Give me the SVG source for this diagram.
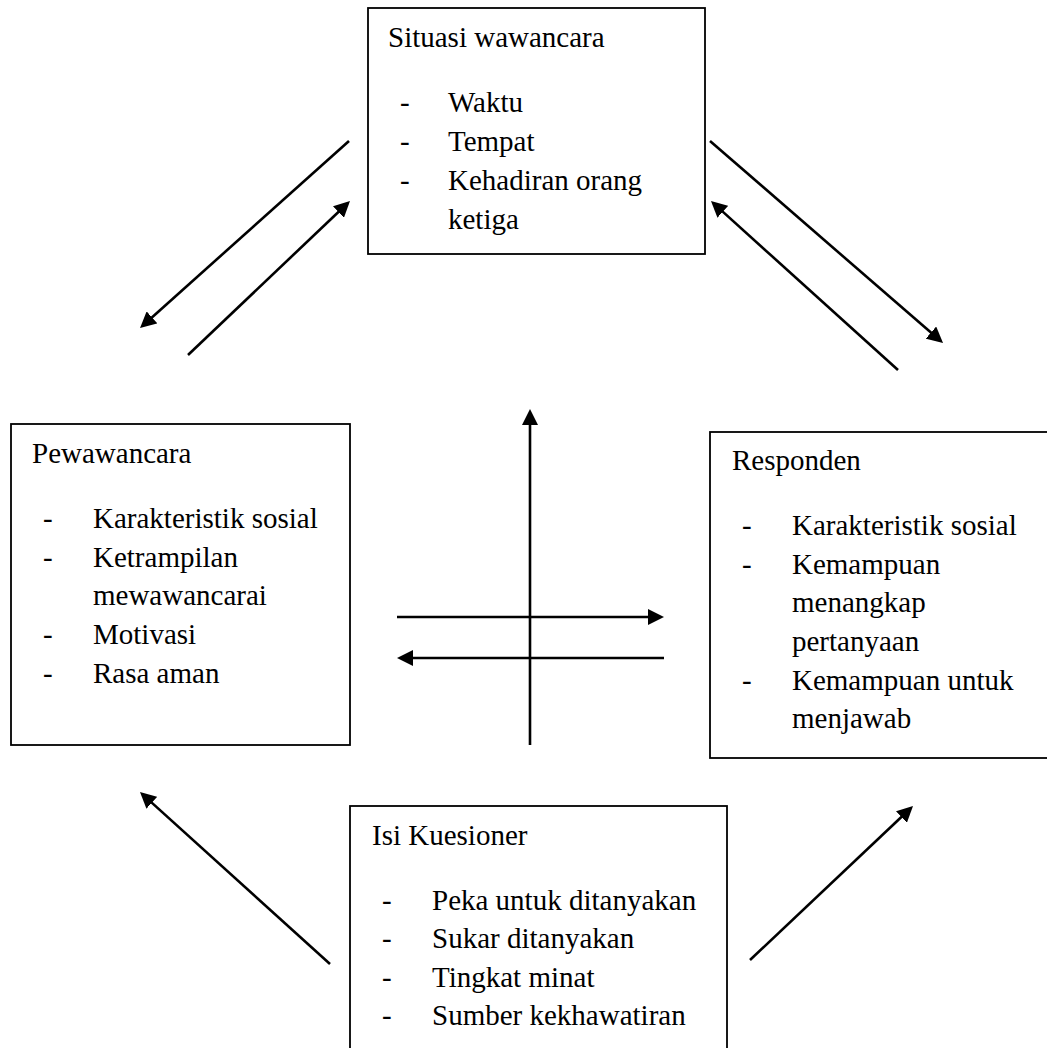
<svg xmlns="http://www.w3.org/2000/svg" width="1047" height="1048" viewBox="0 0 1047 1048">
<style>
  .box { fill: #ffffff; stroke: #000000; stroke-width: 1.8; }
  .t { font-family: "Liberation Serif", "Times New Roman", serif; font-size: 29px; fill: #000000; }
  .c { stroke: #000000; stroke-width: 2.6; fill: none; marker-end: url(#ah); }
</style>
<defs>
  <marker id="ah" markerUnits="userSpaceOnUse" markerWidth="16" markerHeight="16" refX="8" refY="8" orient="auto">
    <path d="M0,0 L16,8 L0,16 z" fill="#000000"/>
  </marker>
</defs>
<rect width="1047" height="1048" fill="#ffffff"/>

<g id="situasi">
  <rect class="box" x="368" y="8" width="337" height="246"/>
  <text class="t" x="388" y="47">Situasi wawancara</text>
  <text class="t" x="400" y="112">-</text><text class="t" x="448" y="112">Waktu</text>
  <text class="t" x="400" y="151">-</text><text class="t" x="448" y="151">Tempat</text>
  <text class="t" x="400" y="190">-</text><text class="t" x="448" y="190">Kehadiran orang</text>
  <text class="t" x="448" y="229">ketiga</text>
</g>

<g id="pewawancara">
  <rect class="box" x="11" y="424" width="339" height="321"/>
  <text class="t" x="32" y="463">Pewawancara</text>
  <text class="t" x="43" y="528">-</text><text class="t" x="93" y="528">Karakteristik sosial</text>
  <text class="t" x="43" y="567">-</text><text class="t" x="93" y="567">Ketrampilan</text>
  <text class="t" x="93" y="605">mewawancarai</text>
  <text class="t" x="43" y="644">-</text><text class="t" x="93" y="644">Motivasi</text>
  <text class="t" x="43" y="683">-</text><text class="t" x="93" y="683">Rasa aman</text>
</g>

<g id="responden">
  <rect class="box" x="710" y="432" width="345" height="326"/>
  <text class="t" x="732" y="470">Responden</text>
  <text class="t" x="742" y="535">-</text><text class="t" x="792" y="535">Karakteristik sosial</text>
  <text class="t" x="742" y="574">-</text><text class="t" x="792" y="574">Kemampuan</text>
  <text class="t" x="792" y="612">menangkap</text>
  <text class="t" x="792" y="651">pertanyaan</text>
  <text class="t" x="742" y="690">-</text><text class="t" x="792" y="690">Kemampuan untuk</text>
  <text class="t" x="792" y="728">menjawab</text>
</g>

<g id="kuesioner">
  <rect class="box" x="350" y="806" width="377" height="260"/>
  <text class="t" x="372" y="845">Isi Kuesioner</text>
  <text class="t" x="382" y="910">-</text><text class="t" x="432" y="910">Peka untuk ditanyakan</text>
  <text class="t" x="382" y="948">-</text><text class="t" x="432" y="948">Sukar ditanyakan</text>
  <text class="t" x="382" y="987">-</text><text class="t" x="432" y="987">Tingkat minat</text>
  <text class="t" x="382" y="1025">-</text><text class="t" x="432" y="1025">Sumber kekhawatiran</text>
</g>

<g id="connectors">
  <line class="c" x1="349" y1="141" x2="146" y2="322.7"/>
  <line class="c" x1="188" y1="355" x2="344.2" y2="206.5"/>
  <line class="c" x1="710" y1="141" x2="937" y2="337.8"/>
  <line class="c" x1="898" y1="370" x2="716.9" y2="206.4"/>
  <line class="c" x1="530" y1="745" x2="530" y2="417"/>
  <line class="c" x1="397" y1="617" x2="656" y2="617"/>
  <line class="c" x1="664" y1="658" x2="405" y2="658"/>
  <line class="c" x1="330" y1="964" x2="145.9" y2="797.4"/>
  <line class="c" x1="750" y1="960" x2="907.2" y2="811.5"/>
</g>
</svg>
